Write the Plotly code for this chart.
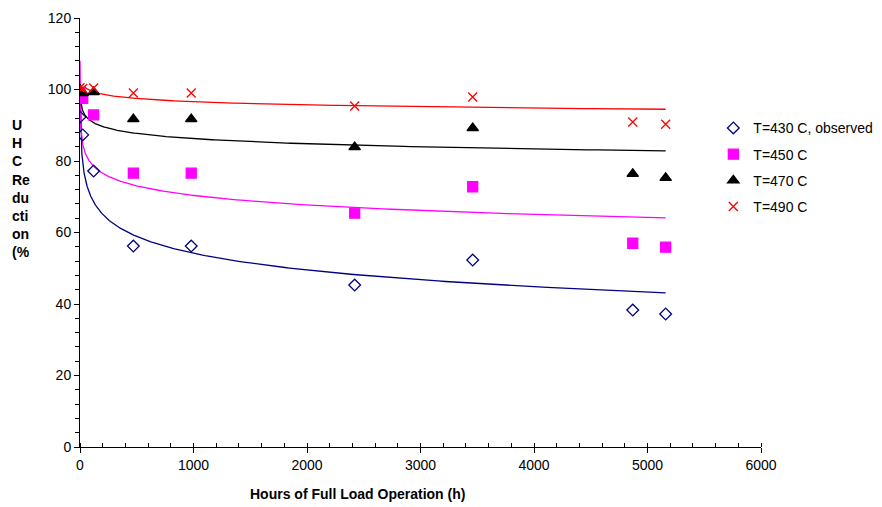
import numpy as np
import plotly.graph_objects as go

hours = [0, 24, 120, 470, 980, 2420, 3460, 4870, 5160]
t430 = [92.3, 87.3, 77.2, 56.2, 56.2, 45.3, 52.3, 38.3, 37.2]
t450 = [99.0, 97.5, 92.9, 76.6, 76.6, 65.4, 72.8, 57.0, 55.9]
t470 = [100.0, 99.0, 99.3, 91.7, 91.7, 83.9, 89.2, 76.4, 75.3]
t490 = [100.5, 100.3, 100.4, 99.0, 99.0, 95.4, 97.9, 90.9, 90.3]

names = ["T=430 C, observed", "T=450 C", "T=470 C", "T=490 C"]
# logarithmic trendline coefficients y = a - b*ln(x), drawn from x_start to x_end
trend_a = [100.9, 96.9, 100.7, 105.5]
trend_b = [6.76, 3.84, 2.09, 1.29]
trend_start = [1.0, 0.055, 1.5, 33.0]
trend_end = 5160

colors = ["#000080", "#FF00FF", "#000000", "#FF0000"]
symbols = ["diamond-open", "square", "triangle-up", "x-thin-open"]
sizes = [9, 10, 10, 9]

FONT = "Liberation Sans, Arial"
fig = go.Figure()
series = [t430, t450, t470, t490]
for i in range(4):
    xs = np.geomspace(trend_start[i], trend_end, 400)
    ys = trend_a[i] - trend_b[i] * np.log(xs)
    fig.add_trace(go.Scatter(x=xs, y=ys, mode="lines", line=dict(color=colors[i], width=1.3),
                             showlegend=False, hoverinfo="skip"))
for i in range(4):
    fig.add_trace(go.Scatter(x=hours, y=series[i], mode="markers", name=names[i], legendgroup=f"g{i}",
                             marker=dict(symbol=symbols[i], size=sizes[i], color=colors[i],
                                         line=dict(color=colors[i], width=1.3))))

axis_common = dict(showline=True, linecolor="black", linewidth=1, showgrid=False, zeroline=False,
                   ticks="outside", ticklen=5, tickcolor="black", tickwidth=1, automargin=False,
                   tickfont=dict(family=FONT, size=14, color="black"))
fig.update_xaxes(range=[0, 6000], dtick=1000, minor=dict(dtick=200, ticks="inside", ticklen=4, tickcolor="black"),
                 **axis_common)
fig.update_yaxes(range=[0, 120], dtick=20, minor=dict(dtick=4, ticks="outside", ticklen=4, tickcolor="black"),
                 **axis_common)

fig.add_annotation(text="<b>Hours of Full Load Operation (h)</b>", xref="paper", yref="paper",
                   x=0.407, y=-0.11, xanchor="center", yanchor="middle", showarrow=False,
                   font=dict(family=FONT, size=14, color="black"))
fig.add_annotation(text="<b>U<br>H<br>C<br>Re<br>du<br>cti<br>on<br>(%</b>", xref="paper", yref="paper",
                   x=-0.103, y=0.775, xanchor="left", yanchor="top", showarrow=False, align="left",
                   font=dict(family=FONT, size=14, color="black"))

fig.update_layout(width=882, height=507, margin=dict(l=80, r=121, t=18, b=60, autoexpand=False),
                  paper_bgcolor="white", plot_bgcolor="white",
                  legend=dict(x=0.93, y=0.78, xanchor="left", yanchor="top", bgcolor="rgba(0,0,0,0)",
                              font=dict(family=FONT, size=14, color="black"),
                              tracegroupgap=5, itemwidth=30))
fig.write_html("out.html", config={"responsive": False, "displayModeBar": False},
               post_script="document.body.style.margin='0';document.body.style.overflow='hidden';")
